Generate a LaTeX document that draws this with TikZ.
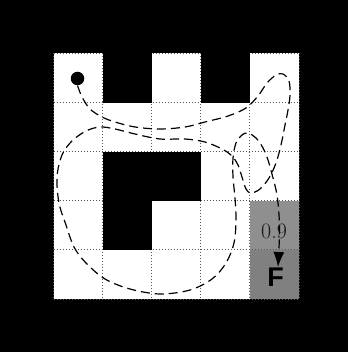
\documentclass[tikz,border=0pt]{standalone}
\usepackage{fontspec}
\newfontfamily\heavysans{Liberation Sans}[Scale=1]
\usetikzlibrary{arrows.meta}
\definecolor{goalA}{HTML}{8F8F8F}
\definecolor{goalB}{HTML}{808080}
\tikzset{
  wall/.style={fill=black,draw=none},
  gridline/.style={dotted,line width=1pt,black!65},
  route/.style={dash pattern=on 9pt off 5pt,line width=1.2pt,
    -{Latex[length=15pt,width=11pt]}},
  agent/.style={circle,fill=black,inner sep=0pt,minimum size=13.5pt},
}
\begin{document}
\begin{tikzpicture}[x=1pt,y=-1pt]
\useasboundingbox (0,0) rectangle (348,352);
\fill[black] (0,0) rectangle (348,352);
\def\c{49.1}
\def\o{53.5}
% white board
\fill[white] (\o,\o) rectangle (299,299);
% goal cells
\fill[goalA] (249.9,200.8) rectangle (299,249.9);
\fill[goalB] (249.9,249.9) rectangle (299,299);
% dotted grid
\foreach \k in {0,...,5}{
  \draw[gridline] ({\o+\k*\c},\o) -- ({\o+\k*\c},299);
  \draw[gridline] (\o,{\o+\k*\c}) -- (299,{\o+\k*\c});
}
% walls
\fill[wall] (102.6,\o) rectangle (151.7,102.6);
\fill[wall] (200.8,\o) rectangle (249.9,102.6);
\fill[wall] (102.6,151.7) rectangle (200.8,200.8);
\fill[wall] (102.6,200.8) rectangle (151.7,249.9);
% nodes
\node[agent] (dot) at (77.5,78.5) {};
\node[font=\fontsize{22}{24}\selectfont,text=black!90] (p) at (274,231) {0.9};
\node[font=\heavysans\bfseries\fontsize{27}{30}\selectfont,inner sep=0pt] (F) at (275.5,277) {F};
% route
\draw[route] plot[smooth,tension=0.55] coordinates {
 (dot.south) (82,97) (90,109) (102,117) (115,122) (135,127) (160,129)
 (185,127) (205,122) (228,116) (246,108) (258,96) (267,83) (276,75)
 (283,74) (289,81) (290,95) (288,110) (285,125) (281,145) (276,163)
 (269,178) (260,189) (251,193) (246,189) (242,177) (238,165) (232,156)
 (222,149) (205,142) (185,139) (160,139) (135,134) (115,129) (100,127)
 (86,131) (72,141) (62,155) (57,177) (59,203) (66,225) (74,247) (86,263)
 (105,279) (130,289) (160,294) (190,290) (212,279) (226,263) (234,243)
 (236,220) (235,198) (233,177) (233,158) (236,143) (242,135) (248,133)
 (256,138) (263,148) (268,160) (273,178) (277,195) (279,215) (279.5,235)
 (278,267) };
\end{tikzpicture}
\end{document}
